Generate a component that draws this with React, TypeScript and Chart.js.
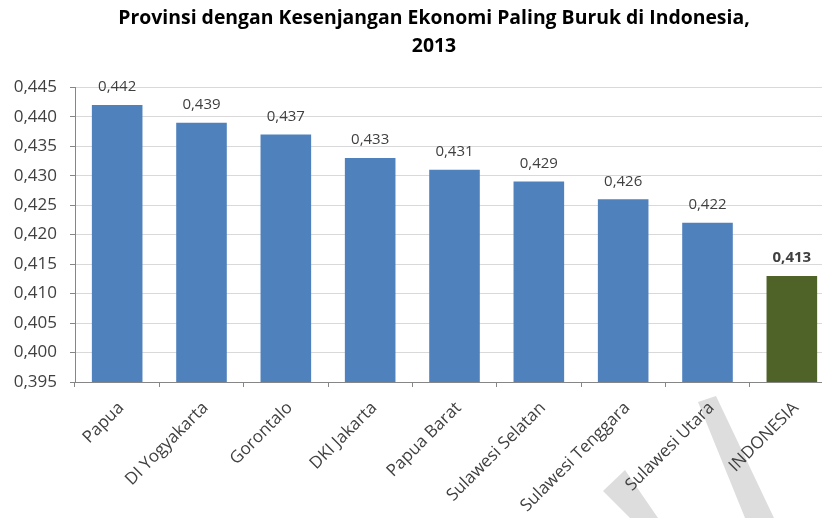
import React, { useEffect, useRef } from "react";
import { Chart, registerables } from "chart.js";

Chart.register(...registerables);

const categories = [
  "Papua",
  "DI Yogyakarta",
  "Gorontalo",
  "DKI Jakarta",
  "Papua Barat",
  "Sulawesi Selatan",
  "Sulawesi Tenggara",
  "Sulawesi Utara",
  "INDONESIA",
];
const giniValues = [0.442, 0.439, 0.437, 0.433, 0.431, 0.429, 0.426, 0.422, 0.413];
const barColors = ["#4F81BD", "#4F81BD", "#4F81BD", "#4F81BD", "#4F81BD", "#4F81BD", "#4F81BD", "#4F81BD", "#4F6228"];
const boldLabel = [false, false, false, false, false, false, false, false, true];
const titleLines = ["Provinsi dengan Kesenjangan Ekonomi Paling Buruk di Indonesia,", "2013"];
const yMin = 0.395;
const yMax = 0.445;
const yStep = 0.005;

// decorative grey watermark fragments visible in the reference (canvas px)
const watermarkShapes = [
  [[603, 491], [625, 470], [658, 518], [630, 518]],
  [[698, 402], [716, 396], [774, 518], [745, 518]],
];

const FONT = "'Open Sans', 'Liberation Sans', sans-serif";
const fmt = (v: number) => v.toFixed(3).replace(".", ",");

const watermarkPlugin = {
  id: "watermark",
  beforeDraw(chart: any) {
    const ctx = chart.ctx;
    ctx.save();
    ctx.fillStyle = "#dddddd";
    for (const shape of watermarkShapes) {
      ctx.beginPath();
      shape.forEach((p, i) => (i === 0 ? ctx.moveTo(p[0], p[1]) : ctx.lineTo(p[0], p[1])));
      ctx.closePath();
      ctx.fill();
    }
    ctx.restore();
  },
};

const dataLabelPlugin = {
  id: "dataLabels",
  afterDatasetsDraw(chart: any) {
    const ctx = chart.ctx;
    const meta = chart.getDatasetMeta(0);
    ctx.save();
    ctx.textAlign = "center";
    ctx.textBaseline = "middle";
    meta.data.forEach((bar: any, i: number) => {
      ctx.font = `${boldLabel[i] ? "bold " : ""}15px ${FONT}`;
      ctx.fillStyle = "#404040";
      ctx.fillText(fmt(giniValues[i]), bar.x, bar.y - 18);
    });
    ctx.restore();
  },
};

export default function App() {
  const ref = useRef<HTMLCanvasElement>(null);
  useEffect(() => {
    if (!ref.current) return;
    const chart = new Chart(ref.current, {
      type: "bar",
      data: {
        labels: categories,
        datasets: [
          {
            data: giniValues,
            backgroundColor: barColors,
            borderWidth: 0,
            barPercentage: 0.6,
            categoryPercentage: 1,
          },
        ],
      },
      options: {
        animation: false,
        responsive: false,
        layout: { padding: 0 },
        plugins: {
          legend: { display: false },
          tooltip: { enabled: false },
          title: {
            display: true,
            text: titleLines,
            color: "#000000",
            font: { family: FONT, size: 19.4, weight: "bold", lineHeight: 1.45 },
            padding: { top: 4, bottom: 27 },
          },
        },
        scales: {
          x: {
            grid: {
              display: true,
              drawOnChartArea: false,
              drawTicks: true,
              tickLength: 5,
              offset: true,
              color: "#868686",
            },
            border: { display: true, color: "#868686" },
            ticks: {
              minRotation: 45,
              maxRotation: 45,
              color: "#404040",
              font: { family: FONT, size: 17 },
              padding: 11,
              labelOffset: 4,
            },
            afterFit(scale: any) {
              scale.height = 518 - 382;
            },
          },
          y: {
            min: yMin,
            max: yMax,
            grid: { color: "#d9d9d9", tickColor: "#868686", tickLength: 5 },
            border: { display: true, color: "#868686" },
            ticks: {
              stepSize: yStep,
              color: "#404040",
              font: { family: FONT, size: 17 },
              padding: 13,
              callback: (v: any) => fmt(Number(v)),
            },
            afterFit(scale: any) {
              scale.width = 75;
            },
          },
          yRightSpacer: {
            type: "linear",
            position: "right",
            display: true,
            grid: { display: false, drawTicks: false },
            border: { display: false },
            ticks: { display: false },
            afterFit(scale: any) {
              scale.width = 34;
            },
          },
        },
      },
      plugins: [watermarkPlugin, dataLabelPlugin],
    });
    return () => chart.destroy();
  }, []);
  return (
    <div style={{ position: "fixed", left: 0, top: 0, width: 822, height: 518, overflow: "hidden", background: "#fff" }}>
      <canvas ref={ref} width={868} height={518} style={{ display: "block" }} />
    </div>
  );
}
